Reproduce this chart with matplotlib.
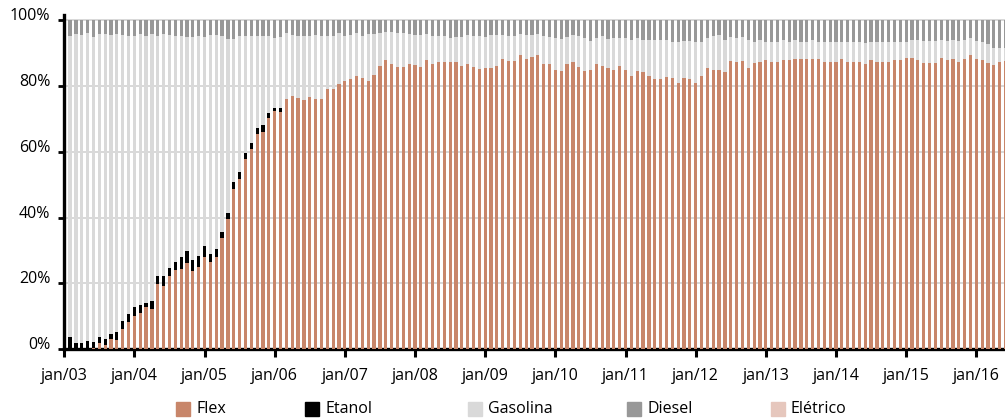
import numpy as np
import matplotlib
matplotlib.use("Agg")
import matplotlib.pyplot as plt
from matplotlib.patches import Rectangle

plt.rcParams["font.family"] = ["Open Sans", "DejaVu Sans"]

# monthly share of new car sales by fuel (%), jan/03 onwards
flex = [
    0.0, 0.0, 0.0, 0.0, 0.3, 1.8, 1.4, 3.0, 2.8, 6.1,
    8.4, 10.1, 10.9, 12.8, 12.3, 19.8, 19.2, 22.3, 24.1, 24.3,
    26.3, 23.9, 25.1, 28.1, 26.5, 27.9, 33.8, 39.5, 48.8, 51.6,
    57.9, 60.9, 65.4, 66.0, 70.2, 72.3, 72.1, 76.1, 77.0, 76.4,
    75.8, 76.6, 76.0, 76.0, 79.0, 79.0, 80.5, 81.5, 82.0, 83.0,
    82.4, 81.5, 83.2, 86.0, 87.9, 86.7, 85.7, 85.7, 86.6, 86.3,
    85.7, 87.8, 86.7, 87.2, 87.2, 87.2, 87.2, 86.0, 86.6, 85.7,
    85.2, 85.4, 85.4, 86.2, 88.2, 87.6, 87.6, 89.4, 88.3, 88.7,
    89.4, 86.6, 86.6, 85.0, 84.5, 86.6, 87.2, 85.7, 84.5, 85.0,
    86.6, 86.2, 85.5, 85.0, 86.0, 85.0, 83.0, 84.7, 84.2, 83.0,
    82.0, 82.0, 82.6, 82.3, 80.8, 82.4, 82.2, 80.8, 82.9, 85.5,
    85.0, 85.0, 84.2, 87.7, 87.2, 87.7, 85.6, 87.0, 87.2, 87.8,
    87.4, 87.4, 87.8, 87.9, 88.1, 88.1, 88.1, 88.1, 88.1, 87.2,
    87.2, 87.4, 88.1, 87.2, 87.2, 87.2, 86.8, 87.8, 87.2, 87.2,
    87.2, 87.8, 87.8, 88.4, 88.4, 87.8, 87.0, 87.0, 87.0, 88.4,
    87.8, 88.1, 87.4, 88.1, 89.3, 88.2, 87.8, 87.0, 86.3, 87.2,
    87.6,
]
n = len(flex)

etanol_early = [
    3.6, 2.0, 2.0, 2.6, 2.0, 1.8, 1.8, 1.7, 2.6, 2.6,
    2.2, 2.7, 2.7, 1.4, 2.5, 2.5, 3.1, 2.5, 2.4, 3.7,
    3.7, 3.2, 3.2, 3.3, 2.6, 2.7, 1.8, 1.8, 2.0, 2.3,
    1.6, 1.9, 1.8, 2.1, 1.5, 1.0, 1.2,
]
# etanol no longer visible after mid 2006
etanol = etanol_early + [0.0] * (n - len(etanol_early))

diesel = [
    4.9, 4.3, 4.5, 3.9, 5.1, 4.3, 4.3, 4.5, 4.3, 4.5,
    4.9, 4.7, 4.1, 4.7, 4.3, 4.9, 4.3, 4.6, 4.7, 4.9,
    5.1, 5.1, 4.9, 5.1, 4.5, 4.5, 4.7, 5.7, 5.7, 4.7,
    4.7, 4.7, 4.9, 4.7, 4.7, 5.5, 5.1, 3.9, 4.5, 4.9,
    4.9, 4.9, 4.5, 4.9, 4.9, 4.7, 4.0, 4.7, 4.5, 3.9,
    4.7, 4.1, 4.1, 3.9, 3.5, 3.7, 3.9, 3.9, 4.1, 4.5,
    4.5, 4.1, 4.7, 4.9, 4.9, 5.3, 5.1, 5.1, 4.5, 4.9,
    4.9, 5.1, 4.5, 4.5, 4.5, 4.9, 4.9, 4.1, 4.5, 4.5,
    4.1, 4.7, 5.1, 5.3, 5.7, 5.1, 4.5, 4.9, 5.3, 6.3,
    5.5, 4.9, 5.7, 5.5, 5.5, 5.5, 5.9, 5.5, 6.1, 5.9,
    6.1, 5.9, 6.1, 6.5, 6.5, 6.3, 6.3, 6.5, 6.5, 5.5,
    4.7, 4.5, 6.1, 5.1, 5.3, 5.1, 6.1, 6.5, 5.9, 6.5,
    6.5, 6.5, 6.1, 6.5, 6.1, 6.5, 6.5, 6.1, 6.5, 6.5,
    6.5, 6.5, 6.5, 6.5, 6.5, 6.5, 6.9, 6.5, 6.7, 6.7,
    6.5, 6.5, 6.5, 6.5, 6.1, 6.1, 6.4, 6.4, 6.4, 6.1,
    6.2, 5.9, 6.2, 5.9, 5.3, 6.2, 6.7, 7.1, 8.3, 8.5,
    8.4,
]
# eletrico share too small to show
eletrico = [0.0] * n

tick_labels = ["jan/%02d" % y for y in range(3, 17)]

flex = np.array(flex)
etanol = np.array(etanol)
diesel = np.array(diesel)
eletrico = np.array(eletrico)
gasolina = 100 - flex - etanol - diesel - eletrico

colors = {
    "Flex": "#c8866a",
    "Etanol": "#000000",
    "Gasolina": "#d9d9d9",
    "Diesel": "#989898",
    "Elétrico": "#e6c7bd",
}

W, H = 1005, 418
fig = plt.figure(figsize=(W / 100, H / 100), dpi=100)
y0, y100 = 349.3, 20.2
ppu = (y0 - y100) / 100
ax_left = 64.2
ax_top = y0 - 101.5 * ppu
ax = fig.add_axes([ax_left / W, (H - y0) / H, 1 - ax_left / W, (y0 - ax_top) / H])

x = np.arange(n)
bw = 0.55
bottom = np.zeros(n)
for name, vals in [("Flex", flex), ("Etanol", etanol), ("Gasolina", gasolina),
                   ("Diesel", diesel), ("Elétrico", eletrico)]:
    ax.bar(x, vals, bw, bottom=bottom, color=colors[name], linewidth=0, zorder=3)
    bottom = bottom + vals

ax.set_xlim(-1, 159.9)
ax.set_ylim(0, 101.5)

ax.set_xticks(np.arange(len(tick_labels)) * 12 - 1)
ax.set_xticklabels(tick_labels, fontsize=11.5)
ax.set_yticks(np.arange(0, 101, 20))
ax.set_yticklabels(["%d%%" % v for v in range(0, 101, 20)], fontsize=11.5,
                   verticalalignment="baseline")

ax.yaxis.grid(True, color="#d2d2d2", linewidth=1.2)
ax.set_axisbelow(True)

for side in ["top", "right"]:
    ax.spines[side].set_visible(False)
for side in ["left", "bottom"]:
    ax.spines[side].set_linewidth(2.4)
    ax.spines[side].set_color("black")

ax.tick_params(axis="x", direction="out", length=5.5, width=2.2, pad=8, colors="black")
ax.tick_params(axis="y", direction="out", length=4.5, width=2.0, pad=5.5, colors="black")

# legend drawn below the axis
legend_pos = [("Flex", 176), ("Etanol", 305), ("Gasolina", 468),
              ("Diesel", 627), ("Elétrico", 771)]
for name, px in legend_pos:
    fig.patches.append(Rectangle((px / W, (H - 416) / H), 14 / W, 14 / H,
                                 transform=fig.transFigure, color=colors[name]))
    fig.text((px + 20) / W, 1 - 409 / H, name, fontsize=11.5, va="center", ha="left")

fig.savefig("out.png", dpi=100)
